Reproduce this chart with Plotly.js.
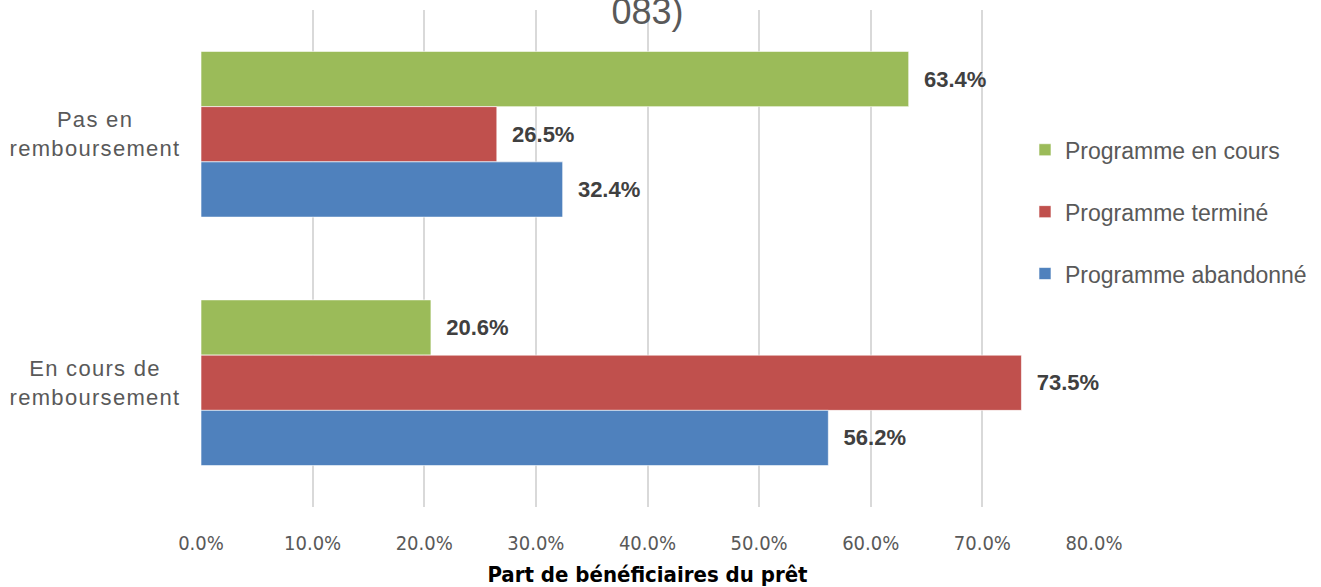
<!DOCTYPE html>
<html>
<head>
<meta charset="utf-8">
<script src="https://cdn.plot.ly/plotly-3.0.1.min.js"></script>
<style>
html,body{margin:0;padding:0;background:#fff;}
#chart{width:1321px;height:587px;}
#chart .annotation-text{letter-spacing:1.3px;}
</style>
</head>
<body>
<div id="chart"></div>
<script>
// Data
const categories = ["Pas en remboursement", "En cours de remboursement"];
const categoryLabels = ["Pas en<br>remboursement", "En cours de<br>remboursement"];
const seriesNames = ["Programme en cours", "Programme terminé", "Programme abandonné"];
const enCours = [63.4, 20.6];
const termine = [26.5, 73.5];
const abandonne = [32.4, 56.2];
const xTickValues = [0, 10, 20, 30, 40, 50, 60, 70, 80];
const titleText = "083)";
const xTitle = "Part de bénéficiaires du prêt";

const colors = ["#9bbb59", "#c0504d", "#4f81bd"];
const seriesValues = [enCours, termine, abandonne];

const traces = seriesValues.map((vals, i) => ({
  type: "bar",
  orientation: "h",
  name: seriesNames[i],
  legendgroup: "g" + i,
  y: categories,
  x: vals,
  marker: {color: colors[i], line: {color: "rgba(255,255,255,0.6)", width: 1}},
  text: vals.map(v => "\u00a0\u00a0" + v.toFixed(1) + "%"),
  texttemplate: "%{text}",
  textposition: "outside",
  constraintext: "none",
  cliponaxis: false,
  textfont: {family: "Liberation Sans, Arial, sans-serif", size: 22, color: "#404040", weight: "bold"},
  hoverinfo: "x+name"
}));

const annotations = categories.map((c, i) => ({
  xref: "paper", yref: "y",
  x: -0.1186, y: c,
  xanchor: "center", yanchor: "middle",
  align: "center",
  text: categoryLabels[i],
  showarrow: false,
  font: {family: "Liberation Sans, Arial, sans-serif", size: 22, color: "#595959"}
}));

const layout = {
  width: 1321, height: 587,
  margin: {l: 201, r: 226, t: 10, b: 80},
  paper_bgcolor: "#ffffff",
  plot_bgcolor: "#ffffff",
  barmode: "group",
  bargap: 0.333,
  bargroupgap: 0,
  showlegend: true,
  title: {
    text: titleText,
    x: 0.5, xref: "paper",
    y: 0.98, yref: "container", yanchor: "middle",
    font: {family: "Liberation Sans, Arial, sans-serif", size: 36, color: "#595959"}
  },
  legend: {
    x: 0.9217, xanchor: "left",
    y: 0.762, yanchor: "top",
    tracegroupgap: 29,
    bgcolor: "rgba(0,0,0,0)",
    font: {family: "Liberation Sans, Arial, sans-serif", size: 23, color: "#595959"}
  },
  xaxis: {
    range: [0, 80],
    tickvals: xTickValues,
    ticktext: xTickValues.map(v => v.toFixed(1) + "%"),
    showgrid: true,
    gridcolor: "#d9d9d9",
    gridwidth: 2,
    zeroline: false,
    showline: false,
    ticks: "outside",
    ticklen: 18,
    tickcolor: "rgba(0,0,0,0)",
    tickfont: {family: "Liberation Sans Narrow, DejaVu Sans Condensed, Arial Narrow, sans-serif", size: 20, color: "#595959"},
    title: {
      text: xTitle,
      standoff: 13,
      font: {family: "Liberation Sans Narrow, DejaVu Sans Condensed, Arial Narrow, sans-serif", size: 22, color: "#000000", weight: "bold"}
    },
    fixedrange: true
  },
  yaxis: {
    type: "category",
    categoryorder: "array",
    categoryarray: categories,
    range: [1.5, -0.5],
    showticklabels: false,
    showgrid: false,
    zeroline: false,
    showline: false,
    ticks: "",
    fixedrange: true
  },
  annotations: annotations
};

Plotly.newPlot("chart", traces, layout, {displayModeBar: false, responsive: false});
</script>
</body>
</html>
